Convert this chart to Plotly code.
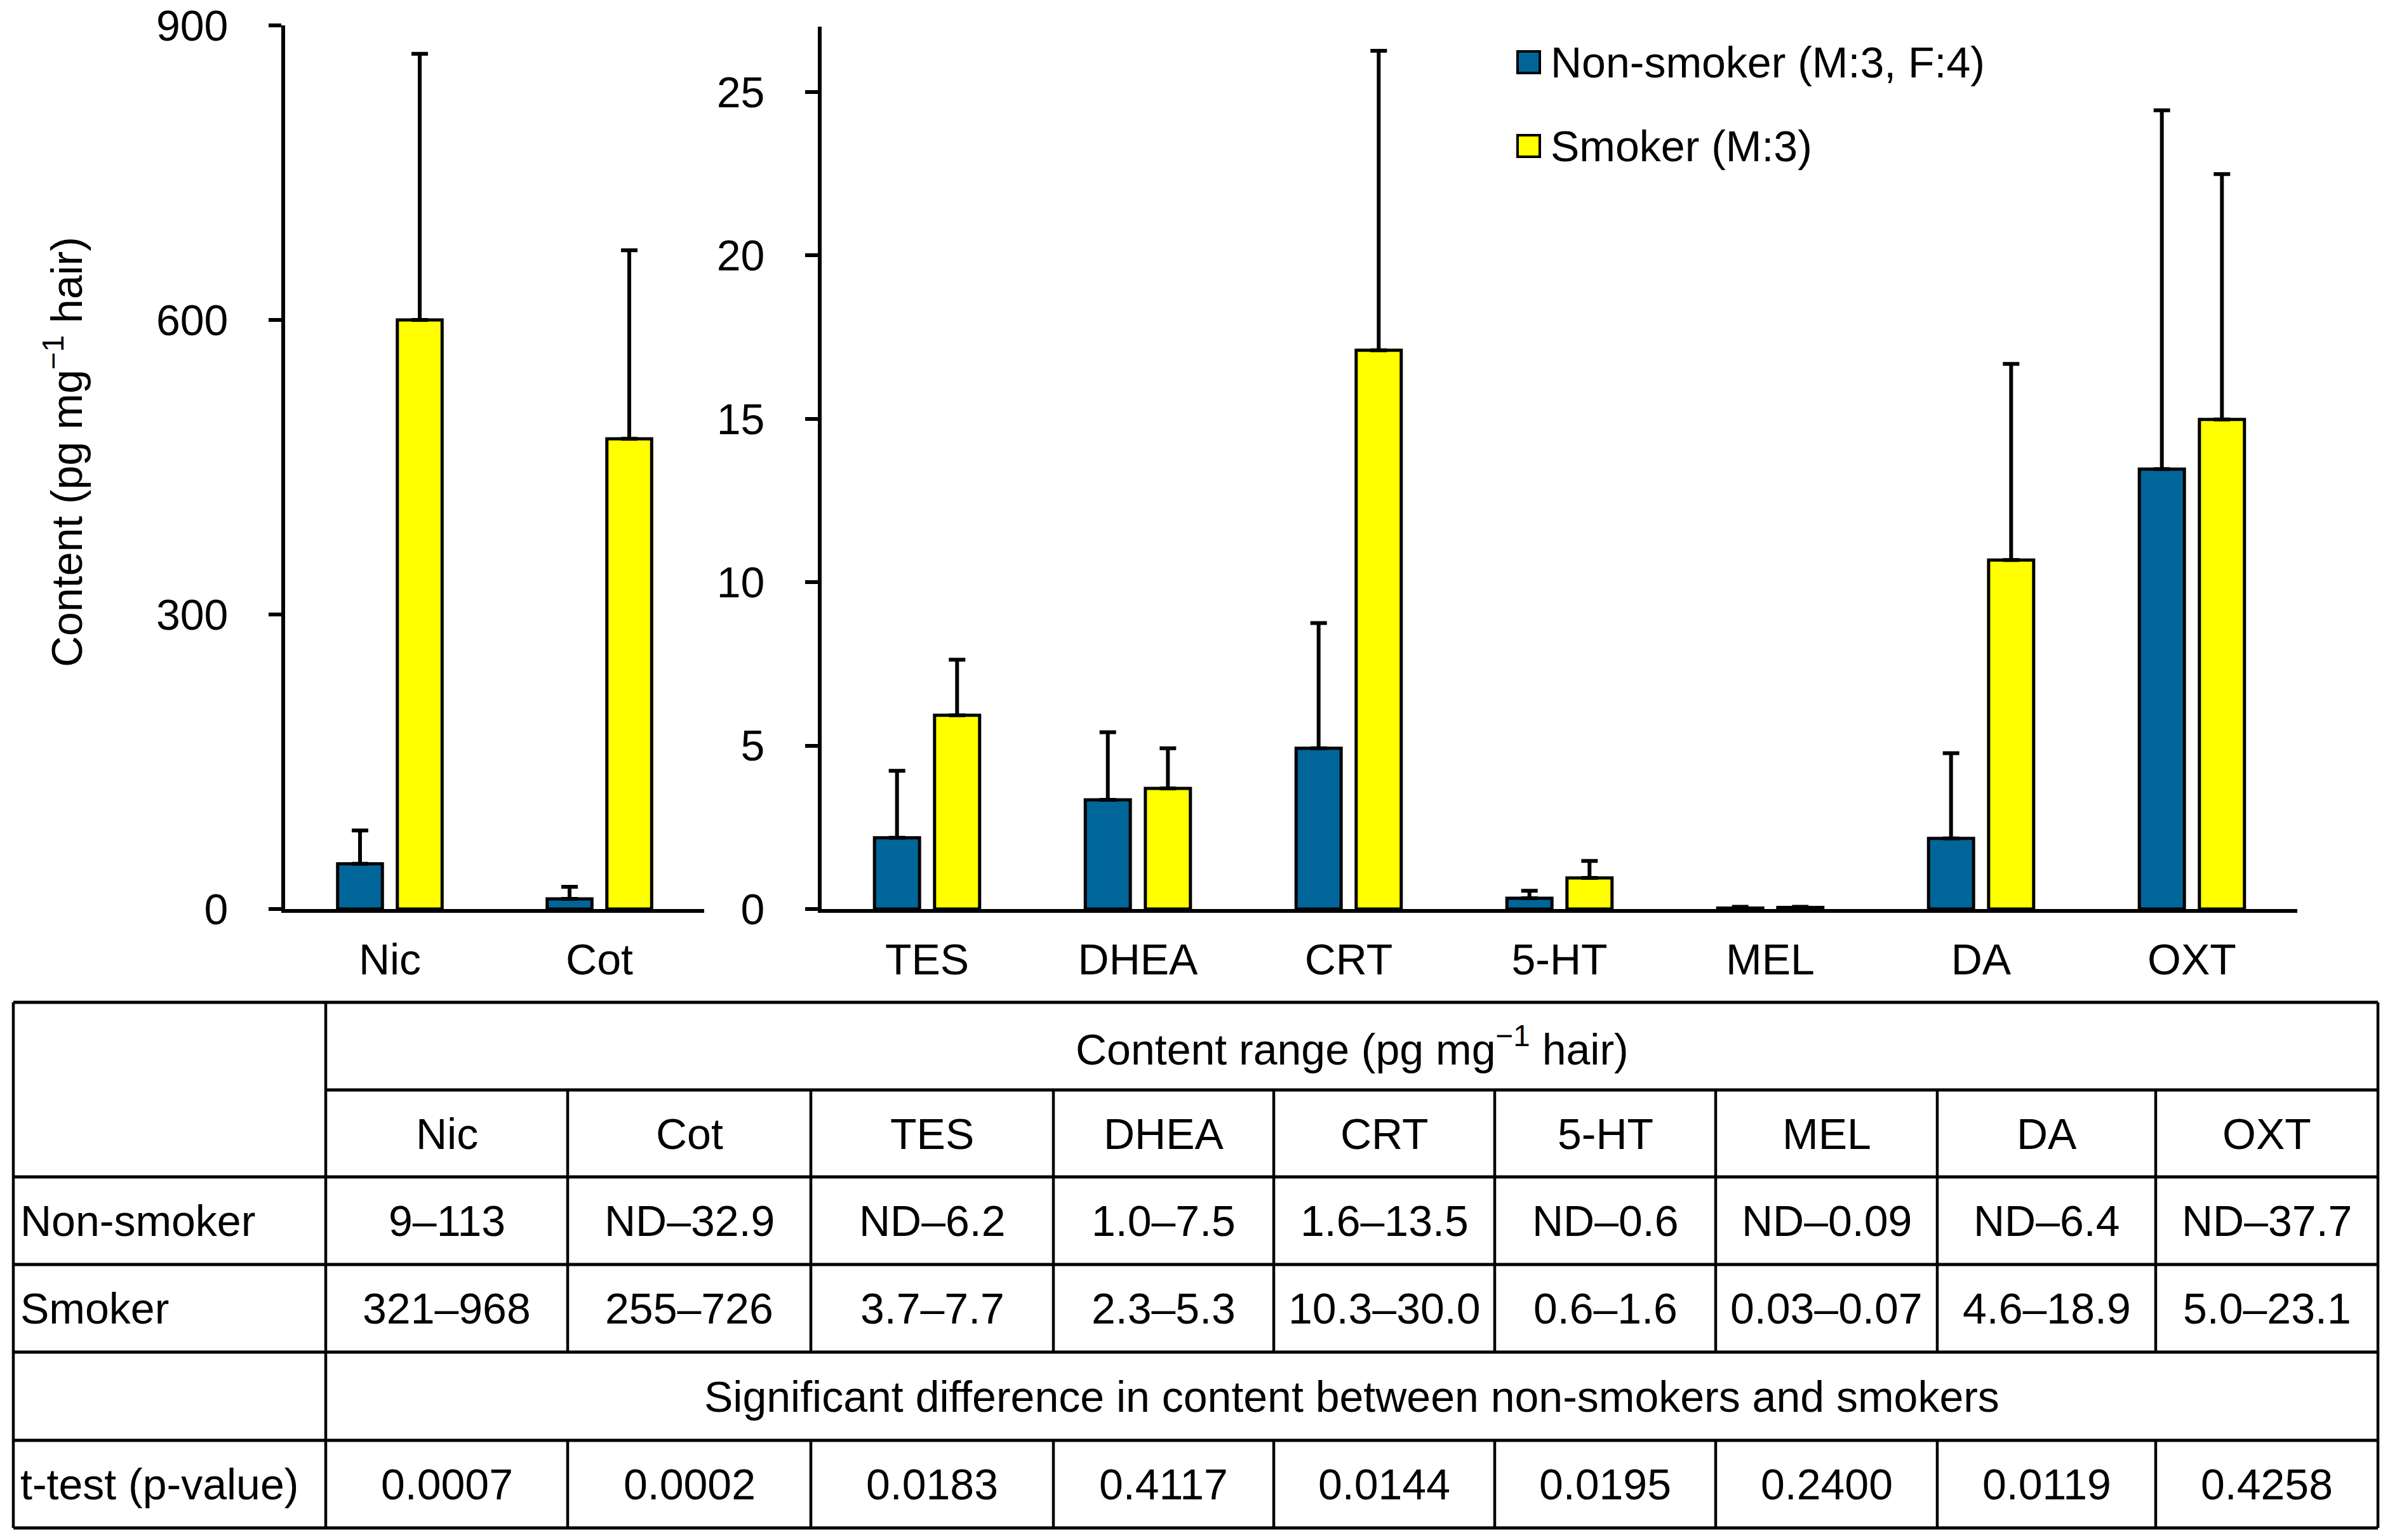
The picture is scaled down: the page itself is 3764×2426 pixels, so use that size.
import plotly.graph_objects as go

W, H = 3764, 2426
OFF = 8  # default page body margin shifts the figure by this many pixels

# ---------------- data ----------------
left_cats = ["Nic", "Cot"]
left_nonsmoker = [46, 10.3]
left_nonsmoker_err = [34, 12.3]
left_smoker = [600, 479]
left_smoker_err = [271, 192]

right_cats = ["TES", "DHEA", "CRT", "5-HT", "MEL", "DA", "OXT"]
right_nonsmoker = [2.18, 3.34, 4.92, 0.33, 0.03, 2.16, 13.46]
right_nonsmoker_err = [2.05, 2.07, 3.83, 0.23, 0.04, 2.61, 10.98]
right_smoker = [5.93, 3.69, 17.1, 0.95, 0.05, 10.68, 14.98]
right_smoker_err = [1.70, 1.23, 9.16, 0.52, 0.02, 6.0, 7.51]

left_ticks = [0, 300, 600, 900]
right_ticks = [0, 5, 10, 15, 20, 25]

legend_labels = ["Non-smoker (M:3, F:4)", "Smoker (M:3)"]
y_title = "Content (pg mg<sup>−1</sup> hair)"

table_cols = ["Nic", "Cot", "TES", "DHEA", "CRT", "5-HT", "MEL", "DA", "OXT"]
nonsmoker_range = ["9–113", "ND–32.9", "ND–6.2", "1.0–7.5", "1.6–13.5",
                   "ND–0.6", "ND–0.09", "ND–6.4", "ND–37.7"]
smoker_range = ["321–968", "255–726", "3.7–7.7", "2.3–5.3", "10.3–30.0",
                "0.6–1.6", "0.03–0.07", "4.6–18.9", "5.0–23.1"]
p_values = ["0.0007", "0.0002", "0.0183", "0.4117", "0.0144",
            "0.0195", "0.2400", "0.0119", "0.4258"]
row_labels = ["Non-smoker", "Smoker", "t-test (p-value)"]
header_text = "Content range (pg mg<sup>−1</sup> hair)"
sig_text = "Significant difference in content between non-smokers and smokers"

# ---------------- style ----------------
BLUE = "#00669A"
YELLOW = "#FFFF00"
FONT = "Liberation Sans, Arial, sans-serif"
FS = 68


def px(x):
    return (x - OFF) / W


def py(y):
    return 1 - (y - OFF) / H


fig = go.Figure()


def add_bars(cats, vals, errs, color, xa, ya):
    fig.add_trace(go.Bar(
        x=cats, y=vals, xaxis=xa, yaxis=ya, showlegend=False,
        marker=dict(color=color, line=dict(color="black", width=5)),
        error_y=dict(type="data", array=errs, arrayminus=[0] * len(errs),
                     symmetric=False, color="black", thickness=6, width=13),
    ))


add_bars(left_cats, left_nonsmoker, left_nonsmoker_err, BLUE, "x", "y")
add_bars(left_cats, left_smoker, left_smoker_err, YELLOW, "x", "y")
add_bars(right_cats, right_nonsmoker, right_nonsmoker_err, BLUE, "x2", "y2")
add_bars(right_cats, right_smoker, right_smoker_err, YELLOW, "x2", "y2")

axis_common = dict(showline=True, linecolor="black", linewidth=6, showgrid=False,
                   zeroline=False, automargin=False, fixedrange=True,
                   ticklabeloverflow="allow",
                   tickfont=dict(family=FONT, size=FS, color="black"))

fig.update_layout(
    width=W, height=H, autosize=False,
    margin=dict(l=0, r=0, t=0, b=0, pad=0),
    paper_bgcolor="white", plot_bgcolor="white",
    font=dict(family=FONT, size=FS, color="black"),
    showlegend=False,
    barmode="group", bargap=0.43, bargroupgap=0.25,
    xaxis=dict(domain=[px(449), px(1109)], anchor="y", ticks="",
               ticklabelstandoff=15, **axis_common),
    yaxis=dict(domain=[py(1432), py(40)], anchor="x", range=[0, 900],
               tickvals=left_ticks, ticks="outside", ticklen=20, tickwidth=6,
               tickcolor="black", ticklabelstandoff=50, **axis_common),
    xaxis2=dict(domain=[px(1294), px(3618)], anchor="y2", ticks="",
                ticklabelstandoff=15, **axis_common),
    yaxis2=dict(domain=[py(1432), py(42)], anchor="x2", range=[0, 27],
                tickvals=right_ticks, ticks="outside", ticklen=20, tickwidth=6,
                tickcolor="black", ticklabelstandoff=50, **axis_common),
)

shapes = []
annotations = []

# y-axis title
annotations.append(dict(x=px(100), y=py(712), xref="paper", yref="paper",
                        text=y_title, textangle=-90, showarrow=False,
                        font=dict(family=FONT, size=FS, color="black"),
                        xanchor="center", yanchor="middle"))

# legend (drawn manually for large swatches)
legend_colors = [BLUE, YELLOW]
legend_y = [98, 230]
for lab, col, yy in zip(legend_labels, legend_colors, legend_y):
    shapes.append(dict(type="rect", xref="paper", yref="paper",
                       x0=px(2390), x1=px(2425), y0=py(yy - 17), y1=py(yy + 17),
                       fillcolor=col, line=dict(color="black", width=4)))
    annotations.append(dict(x=px(2440), y=py(yy), xref="paper", yref="paper",
                            text=lab, showarrow=False, xanchor="left", yanchor="middle",
                            font=dict(family=FONT, size=FS, color="black")))

# ---------------- table ----------------
T_LEFT, T_RIGHT = 21, 3745
col_x = [513, 894, 1277, 1659, 2006, 2354, 2702, 3051, 3395, 3745]
row_y = [1579, 1717, 1854, 1992, 2130, 2269, 2407]
HL = 5
VL = 4.5


def line(x0, y0, x1, y1, w):
    shapes.append(dict(type="line", xref="paper", yref="paper",
                       x0=px(x0), y0=py(y0), x1=px(x1), y1=py(y1),
                       line=dict(color="black", width=w)))


# horizontal lines
for yy in [row_y[0], row_y[2], row_y[3], row_y[4], row_y[5], row_y[6]]:
    line(T_LEFT, yy, T_RIGHT, yy, HL)
line(col_x[0], row_y[1], T_RIGHT, row_y[1], HL)
# outer verticals and label column divider
line(T_LEFT, row_y[0], T_LEFT, row_y[6], VL)
line(T_RIGHT, row_y[0], T_RIGHT, row_y[6], VL)
line(col_x[0], row_y[0], col_x[0], row_y[6], VL)
# inner column dividers
for cx in col_x[1:-1]:
    line(cx, row_y[1], cx, row_y[4], VL)
    line(cx, row_y[5], cx, row_y[6], VL)


def cell_text(x, y, text, anchor="center"):
    annotations.append(dict(x=px(x), y=py(y), xref="paper", yref="paper",
                            text=text, showarrow=False, xanchor=anchor, yanchor="middle",
                            font=dict(family=FONT, size=FS, color="black")))


centers = [(col_x[i] + col_x[i + 1]) / 2 for i in range(len(table_cols))]
mid_all = (col_x[0] + T_RIGHT) / 2
cell_text(mid_all, (row_y[0] + row_y[1]) / 2, header_text)
for c, t in zip(centers, table_cols):
    cell_text(c, (row_y[1] + row_y[2]) / 2, t)
for c, t in zip(centers, nonsmoker_range):
    cell_text(c, (row_y[2] + row_y[3]) / 2, t)
for c, t in zip(centers, smoker_range):
    cell_text(c, (row_y[3] + row_y[4]) / 2, t)
cell_text(mid_all, (row_y[4] + row_y[5]) / 2, sig_text)
for c, t in zip(centers, p_values):
    cell_text(c, (row_y[5] + row_y[6]) / 2, t)
cell_text(30, (row_y[2] + row_y[3]) / 2, row_labels[0], "left")
cell_text(30, (row_y[3] + row_y[4]) / 2, row_labels[1], "left")
cell_text(30, (row_y[5] + row_y[6]) / 2, row_labels[2], "left")

fig.update_layout(shapes=shapes, annotations=annotations)

fig.write_html("out.html", config={"displayModeBar": False})
